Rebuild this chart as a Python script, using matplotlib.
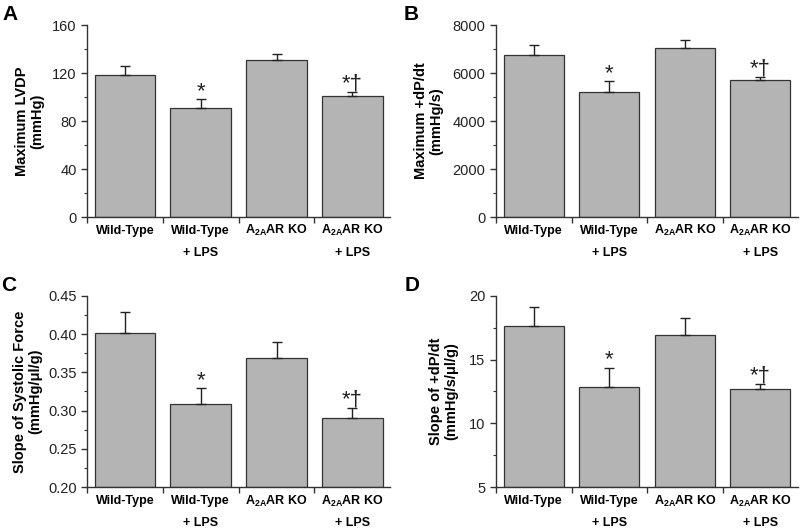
import matplotlib.pyplot as plt
from matplotlib.ticker import MultipleLocator

plt.rcParams['font.family'] = ['Liberation Sans', 'DejaVu Sans']
plt.rcParams['mathtext.fontset'] = 'custom'
plt.rcParams['mathtext.rm'] = 'Liberation Sans:bold'
plt.rcParams['mathtext.bf'] = 'Liberation Sans:bold'
plt.rcParams['mathtext.default'] = 'bf'

# group labels (first line / second line) and significance marks
groups = ["Wild-Type", "Wild-Type", "A$_{2A}$AR KO", "A$_{2A}$AR KO"]
groups_line2 = ["", "+ LPS", "", "+ LPS"]
marks = ["", "*", "", "*\u2020"]

# panel A: maximum LVDP
lvdp_mean = [118, 91, 131, 101]
lvdp_sem = [8, 7, 5, 3]
# panel B: maximum +dP/dt
dpdt_mean = [6740, 5220, 7030, 5710]
dpdt_sem = [440, 450, 330, 120]
# panel C: slope of systolic force
sf_mean = [0.401, 0.309, 0.369, 0.290]
sf_sem = [0.028, 0.020, 0.020, 0.014]
# panel D: slope of +dP/dt
sdp_mean = [17.6, 12.85, 16.95, 12.7]
sdp_sem = [1.55, 1.5, 1.3, 0.42]

fig = plt.figure(figsize=(8, 5.28), dpi=100)

panels = [
    # letter, rect, means, sems, ylim, major, minor, ylabel, label x, letter pos
    ("A", [0.10875, 0.589, 0.379, 0.3636], lvdp_mean, lvdp_sem, (0, 160), 40, 20,
     "Maximum LVDP\n(mmHg)", -0.142, (0.003, 0.99)),
    ("B", [0.62, 0.589, 0.3775, 0.3636], dpdt_mean, dpdt_sem, (0, 8000), 2000, 1000,
     "Maximum +dP/dt\n(mmHg/s)", -0.175, (0.504, 0.99)),
    ("C", [0.10875, 0.0771, 0.379, 0.3629], sf_mean, sf_sem, (0.20, 0.45), 0.05, 0.025,
     "Slope of Systolic Force\n(mmHg/\u03bcl/g)", -0.149, (0.002, 0.478)),
    ("D", [0.62, 0.0771, 0.3775, 0.3629], sdp_mean, sdp_sem, (5, 20), 5, 2.5,
     "Slope of +dP/dt\n(mmHg/s/\u03bcl/g)", -0.126, (0.506, 0.478)),
]

x = list(range(len(groups)))
for letter, rect, means, sems, ylim, major, minor, ylabel, lx, lpos in panels:
    ax = fig.add_axes(rect)
    base = ylim[0]
    heights = [m - base for m in means]
    ax.bar(x, heights, bottom=base, width=0.8, color='#b4b4b4', edgecolor='#333333',
           linewidth=0.9, yerr=[[0] * 4, sems], capsize=3.5,
           error_kw=dict(ecolor='#222222', elinewidth=1.0, capthick=1.0), zorder=2)
    for i, mk in enumerate(marks):
        if mk:
            ax.annotate(mk, (i, means[i] + sems[i]), xytext=(0, -2), textcoords='offset points',
                        ha='center', va='bottom', fontsize=16, color='#222222')
    ax.set_xlim(-0.5, 3.5)
    ax.set_ylim(*ylim)
    ax.yaxis.set_major_locator(MultipleLocator(major))
    ax.yaxis.set_minor_locator(MultipleLocator(minor))
    if letter == "C":
        ax.set_yticklabels([f"{v:.2f}" for v in ax.get_yticks()])
    ax.set_xticks(x)
    ax.set_xticklabels(groups, fontsize=9, fontweight='bold', va='center')
    for i, l2 in enumerate(groups_line2):
        if l2:
            ax.annotate(l2, (i, 0), xycoords=('data', 'axes fraction'), xytext=(0, -26),
                        textcoords='offset points', ha='center', va='center',
                        fontsize=9, fontweight='bold')
    ax.set_xticks([-0.5, 0.5, 1.5, 2.5], minor=True)
    ax.tick_params(axis='x', which='major', length=0, pad=10)
    ax.tick_params(axis='x', which='minor', length=4, width=1, direction='out', color='#333333')
    ax.tick_params(axis='y', which='major', length=4, width=1, labelsize=10.5, color='#333333',
                   labelcolor='#222222')
    ax.tick_params(axis='y', which='minor', length=2, width=0.8, color='#333333')
    for s in ['top', 'right']:
        ax.spines[s].set_visible(False)
    for s in ['left', 'bottom']:
        ax.spines[s].set_color('#333333')
        ax.spines[s].set_linewidth(1.0)
    ax.set_ylabel(ylabel, fontsize=10.5, fontweight='bold', linespacing=1.1)
    ax.yaxis.set_label_coords(lx, 0.5)
    fig.text(lpos[0], lpos[1], letter, fontsize=15, fontweight='bold', ha='left', va='top')

fig.savefig('out.png', dpi=100)
